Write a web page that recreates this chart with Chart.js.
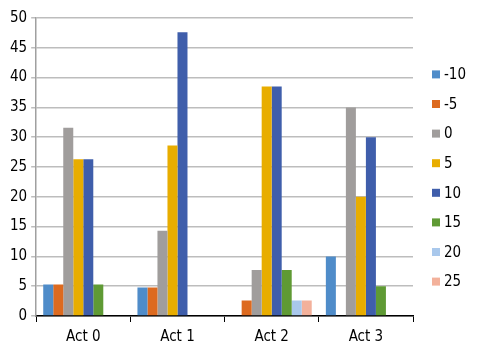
<!DOCTYPE html>
<html>
<head>
<meta charset="utf-8">
<script src="https://cdn.jsdelivr.net/npm/chart.js@4"></script>
<style>
    html, body { margin: 0; padding: 0; background: #fff; }
    #wrap { width: 478px; height: 354px; }
</style>
</head>
<body>
<div id="wrap"><canvas id="actChart"></canvas></div>
<script>
// Data
const categories = ['Act 0', 'Act 1', 'Act 2', 'Act 3'];
const seriesNames = ['-10', '-5', '0', '5', '10', '15', '20', '25'];
const valsM10 = [5.3, 4.8, 0, 10];
const valsM5  = [5.3, 4.8, 2.6, 0];
const vals0   = [31.6, 14.3, 7.7, 35];
const vals5   = [26.3, 28.6, 38.5, 20];
const vals10  = [26.3, 47.6, 38.5, 30];
const vals15  = [5.3, 0, 7.7, 5];
const vals20  = [0, 0, 2.6, 0];
const vals25  = [0, 0, 2.6, 0];
const yTicks = [0, 5, 10, 15, 20, 25, 30, 35, 40, 45, 50];

const colors = ['#4f8cc9', '#dd6a1f', '#a09d9c', '#e8ad00', '#3f5eab', '#5f9a34', '#a9c8ec', '#f3b19b'];
const allVals = [valsM10, valsM5, vals0, vals5, vals10, vals15, vals20, vals25];
const fontFamily = "'Liberation Sans Narrow', 'DejaVu Sans Condensed', 'Liberation Sans', sans-serif";

// Legend drawn by hand so its spot matches the picture
const sideLegend = {
    id: 'sideLegend',
    afterDraw(chart) {
        const ctx = chart.ctx;
        const x = 432;
        const step = 29.6;
        const mid = 178;
        const y0 = mid - step * (seriesNames.length - 1) / 2;
        ctx.save();
        ctx.font = '15px ' + fontFamily;
        ctx.textBaseline = 'middle';
        seriesNames.forEach((name, i) => {
            const y = y0 + i * step;
            ctx.fillStyle = colors[i];
            ctx.fillRect(x, y - 4, 8, 8);
            ctx.fillStyle = '#000';
            ctx.fillText(name, x + 12, y + 1);
        });
        ctx.restore();
    }
};

const ctx = document.getElementById('actChart').getContext('2d');
const actChart = new Chart(ctx, {
    type: 'bar',
    data: {
        labels: categories,
        datasets: seriesNames.map((name, i) => ({
            label: name,
            data: allVals[i],
            backgroundColor: colors[i],
            borderWidth: 0,
            categoryPercentage: 0.85,
            barPercentage: 1
        }))
    },
    options: {
        responsive: true,
        maintainAspectRatio: false,
        animation: false,
        layout: {
            padding: { left: 6, right: 65, top: 18, bottom: 2 }
        },
        plugins: {
            legend: { display: false },
            tooltip: { enabled: false }
        },
        scales: {
            x: {
                grid: {
                    display: true,
                    drawOnChartArea: false,
                    drawTicks: true,
                    tickLength: 6,
                    color: '#000',
                    offset: true
                },
                border: { color: '#000', width: 1.5 },
                ticks: {
                    color: '#000',
                    font: { family: fontFamily, size: 15 },
                    padding: 6
                }
            },
            y: {
                min: 0,
                max: 50,
                afterBuildTicks(axis) {
                    axis.ticks = yTicks.map(v => ({ value: v }));
                },
                grid: {
                    color: '#bdbdbd',
                    lineWidth: 1.5,
                    tickLength: 5
                },
                border: { color: '#a0a0a0', width: 1.5 },
                ticks: {
                    color: '#000',
                    font: { family: fontFamily, size: 15 },
                    padding: 4
                }
            }
        }
    },
    plugins: [sideLegend]
});
</script>
</body>
</html>
